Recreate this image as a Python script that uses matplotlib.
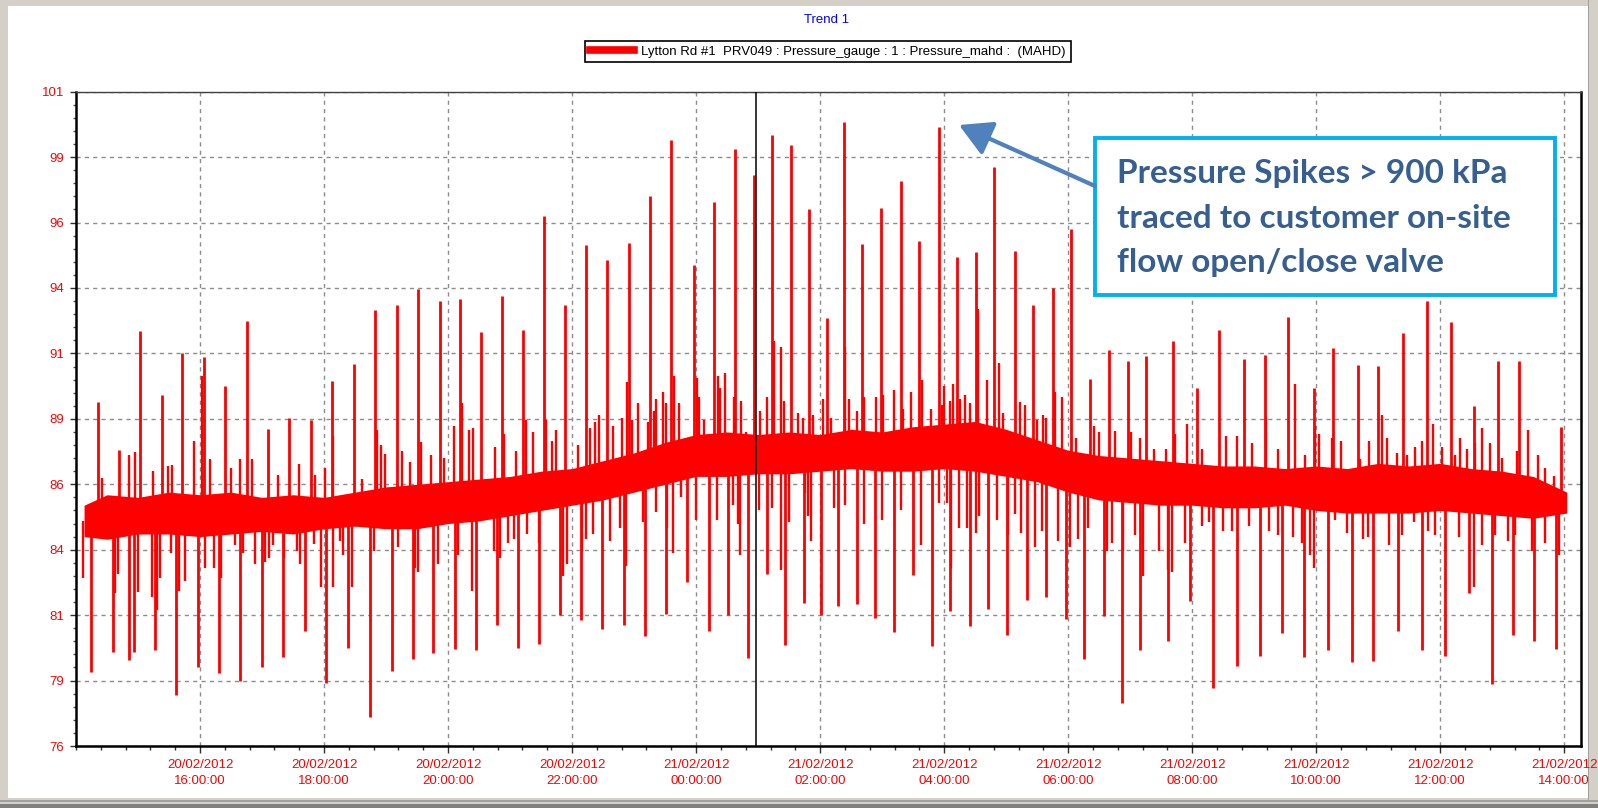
import numpy as np
import pandas as pd
import matplotlib
matplotlib.use("Agg")
import matplotlib.pyplot as plt
import matplotlib.dates as mdates
from matplotlib.lines import Line2D
from matplotlib.patches import Rectangle, FancyArrowPatch
from matplotlib.ticker import FixedLocator, FuncFormatter, MultipleLocator

# ---------------- data (hours after 20/02/2012 14:00, pressure in m AHD) ----------------
START = pd.Timestamp("2012-02-20 14:00")
X_END_HOURS = 24.27
CURSOR_HOURS = 10.96

band_hours = [0.13, 0.5, 1.0, 1.5, 2.0, 2.5, 3.0, 3.5, 4.0, 4.5, 5.0, 5.5, 6.0, 6.5, 7.0, 7.5,
              8.0, 8.5, 9.0, 9.5, 10.0, 10.5, 11.0, 11.5, 12.0, 12.5, 13.0, 13.5, 14.0, 14.5,
              15.0, 15.5, 16.0, 16.5, 17.0, 17.5, 18.0, 18.5, 19.0, 19.5, 20.0, 20.5, 21.0,
              21.5, 22.0, 22.5, 23.0, 23.5, 24.04]
band_high = [85.2, 85.6, 85.5, 85.7, 85.6, 85.7, 85.5, 85.6, 85.5, 85.7, 85.9, 86.0, 86.1, 86.2,
             86.3, 86.5, 86.6, 86.9, 87.2, 87.6, 87.9, 88.0, 87.9, 88.0, 87.9, 88.1, 88.0, 88.2,
             88.3, 88.4, 88.1, 87.7, 87.3, 87.1, 87.0, 86.9, 86.8, 86.7, 86.7, 86.6, 86.7, 86.6,
             86.8, 86.7, 86.8, 86.6, 86.5, 86.3, 85.7]
band_low = [84.0, 83.9, 84.1, 84.1, 84.0, 84.1, 84.2, 84.1, 84.3, 84.4, 84.3, 84.3, 84.5, 84.6,
            84.8, 85.0, 85.2, 85.4, 85.7, 86.0, 86.3, 86.3, 86.4, 86.4, 86.5, 86.6, 86.5, 86.5,
            86.6, 86.5, 86.3, 86.1, 85.7, 85.4, 85.3, 85.2, 85.2, 85.1, 85.1, 85.2, 85.0, 84.9,
            84.9, 84.9, 85.0, 84.9, 84.8, 84.7, 84.9]

spike_up_hours = [0.35, 0.69, 1.03, 1.38, 1.71, 2.06, 2.41, 2.76, 3.10, 3.43, 3.79, 4.13, 4.48, 4.82,
                  5.17, 5.52, 5.87, 6.20, 6.53, 6.87, 7.21, 7.55, 7.89, 8.23, 8.57, 8.91, 9.25, 9.60,
                  9.96, 10.29, 10.63, 10.93, 11.23, 11.53, 11.82, 12.11, 12.38, 12.68, 12.98, 13.30,
                  13.60, 13.91, 14.21, 14.51, 14.81, 15.14, 15.43, 15.75, 16.04, 16.36, 16.66, 16.96,
                  17.26, 17.69, 18.07, 18.43, 18.83, 19.18, 19.54, 19.96, 20.27, 20.67, 21.00, 21.40,
                  21.78, 22.17, 22.55, 22.93, 23.27, 23.95]
spike_up_values = [89.14, 87.32, 91.85, 89.43, 91.0, 90.85, 89.75, 92.24, 88.1, 88.55, 88.47, 89.95,
                   90.6, 92.67, 92.86, 93.48, 92.99, 93.08, 91.82, 93.18, 91.89, 96.25, 92.85, 95.13,
                   94.57, 95.23, 97.0, 99.17, 94.36, 96.79, 98.8, 97.81, 99.35, 98.95, 96.5, 92.37,
                   99.84, 95.18, 96.57, 97.57, 95.29, 99.65, 94.7, 94.86, 98.13, 94.9, 92.85, 93.5,
                   95.77, 90.02, 91.14, 90.7, 90.91, 91.46, 89.67, 91.9, 90.78, 90.94, 92.41, 89.67,
                   91.22, 90.54, 90.51, 91.77, 92.99, 92.19, 89.0, 90.7, 90.7, 88.18]

spike_down_hours = [0.24, 0.59, 0.86, 0.94, 1.28, 1.62, 1.97, 2.31, 2.65, 3.00, 3.34, 3.69, 4.03, 4.38,
                    4.74, 5.09, 5.43, 5.76, 6.11, 6.45, 6.79, 7.13, 7.47, 7.81, 8.14, 8.49, 8.83, 9.17,
                    9.51, 9.86, 10.20, 10.51, 10.84, 11.14, 11.44, 11.74, 12.02, 12.29, 12.59, 12.88,
                    13.19, 13.50, 13.81, 14.10, 14.42, 14.71, 15.02, 15.34, 15.64, 15.96, 16.26, 16.57,
                    16.86, 17.16, 17.61, 17.97, 18.34, 18.73, 19.10, 19.45, 19.81, 20.19, 20.58, 20.92,
                    21.32, 21.70, 22.08, 22.47, 22.84, 23.17, 23.52, 23.87]
spike_down_values = [78.84, 79.6, 79.3, 79.6, 79.68, 77.96, 79.0, 78.78, 78.5, 79.0, 79.4, 80.4, 78.4,
                     79.73, 77.1, 78.85, 79.33, 79.57, 79.71, 79.65, 80.61, 79.76, 79.89, 81.0, 80.83,
                     80.48, 80.61, 80.19, 81.04, 82.26, 80.4, 81.0, 79.36, 82.59, 79.87, 81.47, 81.0,
                     81.36, 81.41, 80.88, 80.35, 82.53, 79.81, 81.15, 80.59, 81.25, 80.24, 81.57, 81.68,
                     80.85, 79.33, 80.96, 77.65, 79.68, 80.03, 81.55, 78.21, 79.07, 79.44, 80.32, 79.4,
                     79.65, 79.2, 79.25, 80.4, 79.68, 79.44, 81.84, 78.37, 80.24, 80.03, 79.71]

minor_up_hours = [0.42, 0.85, 0.95, 1.24, 1.48, 1.55, 1.91, 2.03, 2.16, 2.50, 2.65, 2.84, 3.25, 3.60,
                  3.85, 4.02, 4.15, 4.61, 4.85, 4.92, 4.99, 5.25, 5.39, 5.56, 5.72, 5.93, 6.09, 6.23,
                  6.33, 6.41, 6.76, 6.91, 7.09, 7.26, 7.37, 7.58, 7.67, 7.74, 8.10, 8.29, 8.37, 8.43,
                  8.66, 8.80, 8.88, 8.96, 9.07, 9.22, 9.32, 9.36, 9.47, 9.52, 9.64, 9.72, 10.01, 10.05,
                  10.13, 10.35, 10.38, 10.47, 10.61, 10.73, 10.80, 11.03, 11.15, 11.26, 11.37, 11.42,
                  11.64, 11.72, 11.88, 12.04, 12.17, 12.40, 12.46, 12.60, 12.71, 12.90, 13.02, 13.19,
                  13.34, 13.47, 13.64, 13.78, 13.97, 14.00, 14.10, 14.14, 14.26, 14.34, 14.42, 14.54,
                  14.69, 14.89, 14.95, 15.22, 15.30, 15.50, 15.59, 15.65, 15.78, 15.90, 16.12, 16.42,
                  16.49, 16.76, 17.02, 17.16, 17.39, 17.57, 17.73, 17.92, 18.16, 18.55, 18.73, 18.97,
                  19.19, 19.38, 19.66, 19.82, 19.98, 20.04, 20.25, 20.40, 20.71, 20.85, 21.06, 21.14,
                  21.30, 21.46, 21.60, 21.71, 21.89, 22.03, 22.24, 22.32, 22.43, 22.56, 22.67, 22.81,
                  22.99, 23.24, 23.42, 23.58, 23.69, 23.83]
minor_up_values = [86.23, 87.1, 87.24, 86.5, 86.7, 86.74, 87.67, 90.15, 86.95, 86.63, 86.95, 86.95,
                   86.34, 86.79, 86.34, 86.63, 87.83, 86.2, 88.07, 87.5, 87.14, 87.27, 86.87, 87.6,
                   87.1, 87.0, 88.23, 89.1, 88.07, 88.15, 87.43, 87.91, 87.27, 88.47, 87.99, 88.47,
                   87.67, 88.07, 87.51, 88.15, 88.39, 88.63, 88.23, 88.55, 89.9, 88.47, 89.1, 88.39,
                   88.79, 89.27, 89.54, 89.1, 90.15, 89.1, 90.07, 89.35, 88.47, 90.15, 89.67, 90.27,
                   89.35, 89.19, 87.99, 88.79, 89.35, 91.46, 91.26, 89.19, 88.71, 88.55, 88.63, 89.27,
                   88.55, 91.23, 89.27, 88.79, 89.35, 89.35, 89.43, 89.59, 88.87, 89.51, 89.99, 88.87,
                   89.03, 89.75, 89.19, 89.83, 89.27, 89.43, 89.11, 92.7, 89.99, 90.62, 88.71, 89.15,
                   89.03, 88.47, 88.63, 88.55, 89.51, 89.35, 87.75, 88.23, 87.99, 88.02, 87.99, 87.75,
                   87.35, 87.35, 87.91, 88.31, 87.35, 87.83, 87.83, 87.59, 88.55, 87.35, 89.83, 87.11,
                   88.23, 87.91, 87.75, 87.67, 86.95, 87.67, 88.63, 87.75, 87.19, 87.11, 87.43, 87.67,
                   88.31, 87.43, 87.11, 87.75, 87.35, 87.59, 88.15, 87.59, 86.99, 87.27, 88.07, 87.11,
                   86.63, 86.31]

minor_down_hours = [0.12, 0.63, 0.68, 1.00, 1.23, 1.30, 1.35, 1.54, 1.66, 1.75, 2.08, 2.22, 2.34, 2.57,
                    2.69, 2.88, 3.05, 3.12, 3.18, 3.36, 3.56, 3.61, 3.84, 3.95, 4.15, 4.26, 4.31, 4.45,
                    4.80, 5.19, 5.47, 5.51, 5.83, 6.16, 6.39, 6.74, 6.84, 6.96, 7.06, 7.27, 7.46, 7.85,
                    7.91, 8.16, 8.22, 8.34, 8.61, 8.77, 8.87, 9.14, 9.36, 9.53, 9.63, 9.76, 10.00, 10.34,
                    10.59, 10.67, 10.71, 11.02, 11.23, 11.37, 11.50, 11.75, 11.81, 11.86, 12.23, 12.40,
                    12.71, 13.00, 13.30, 13.62, 13.91, 14.05, 14.11, 14.24, 14.37, 14.51, 14.56, 14.85,
                    15.03, 15.15, 15.24, 15.46, 15.57, 15.84, 16.03, 16.16, 16.32, 16.62, 16.70, 16.89,
                    17.08, 17.20, 17.46, 17.61, 17.68, 17.89, 18.16, 18.27, 18.49, 18.65, 18.92, 19.24,
                    19.39, 19.63, 19.77, 19.90, 19.96, 20.31, 20.49, 20.76, 20.84, 21.17, 21.38, 21.57,
                    21.81, 21.92, 22.30, 22.54, 22.67, 22.89, 23.10, 23.21, 23.48, 23.69, 23.92]
minor_down_values = [82.4, 81.84, 82.56, 81.9, 81.68, 81.2, 82.4, 83.36, 81.92, 82.32, 82.8, 82.8, 82.4,
                     83.68, 83.36, 82.96, 83.04, 83.2, 83.68, 83.2, 83.44, 82.96, 83.7, 82.08, 82.08,
                     83.84, 83.28, 82.08, 83.44, 83.6, 82.8, 82.64, 82.96, 83.28, 81.92, 83.44, 83.2,
                     83.76, 83.92, 84.1, 83.76, 82.48, 82.96, 83.44, 83.92, 84.1, 83.84, 84.32, 82.88,
                     84.55, 84.95, 84.32, 83.36, 85.5, 84.63, 84.63, 85.19, 84.47, 83.28, 85.03, 85.11,
                     82.72, 84.55, 85.67, 84.79, 83.84, 85.11, 85.19, 84.47, 84.63, 85.03, 83.68, 85.27,
                     85.27, 82.8, 84.32, 84.32, 84.15, 84.79, 84.63, 84.07, 84.87, 84.15, 83.6, 84.23,
                     83.84, 83.6, 83.92, 84.32, 83.44, 83.76, 83.44, 84.07, 82.48, 83.44, 82.72, 82.64,
                     83.76, 84.4, 84.55, 84.23, 84.23, 84.4, 84.23, 84.07, 83.99, 83.76, 83.28, 82.8,
                     84.63, 84.15, 83.92, 83.99, 83.68, 84.07, 84.55, 84.23, 84.07, 83.99, 82.08, 83.68,
                     84.07, 83.84, 84.07, 83.44, 83.76, 83.28]

y_ticks = [76, 78.5, 81, 83.5, 86, 88.5, 91, 93.5, 96, 98.5, 101]
x_tick_hours = [2, 4, 6, 8, 10, 12, 14, 16, 18, 20, 22, 24]
legend_label = "Lytton Rd #1  PRV049 : Pressure_gauge : 1 : Pressure_mahd :  (MAHD)"
chart_title = "Trend 1"
note_lines = ["Pressure Spikes > 900 kPa", "traced to customer on-site", "flow open/close valve"]

# ---------------- helpers ----------------
W, H = 1598, 808


def hours_to_num(h):
    times = START + pd.to_timedelta(np.asarray(h, dtype=float), unit="h")
    return mdates.date2num(pd.DatetimeIndex(times).to_pydatetime())


def fpx(x, y):
    return (x / W, 1 - y / H)


plt.rcParams["font.family"] = ["Liberation Sans", "DejaVu Sans"]
RED = "#FF0000"

fig = plt.figure(figsize=(W / 100, H / 100), dpi=100, facecolor="white")

# window frame
frame_col = "#D4D0C8"
for (x0, y0, w, h, c) in [(0, 0, 8, H, frame_col), (0, 0, W, 6, frame_col), (W - 9, 0, 9, H, frame_col),
                          (0, H - 10, W, 10, frame_col), (0, H - 8, W, 2, "#A0A0A0"),
                          (0, H - 4, W, 4, "#808080"), (W - 10, 0, 1, H - 8, "#A0A0A0")]:
    fig.add_artist(Rectangle((x0 / W, 1 - (y0 + h) / H), w / W, h / H, transform=fig.transFigure,
                             facecolor=c, edgecolor="none", zorder=0))

ax_l, ax_r, ax_t, ax_b = 76, 1581, 91.7, 746
ax = fig.add_axes([ax_l / W, 1 - ax_b / H, (ax_r - ax_l) / W, (ax_b - ax_t) / H])
ax.set_facecolor("white")

bh = np.array(band_hours)
hi = np.array(band_high)
lo = np.array(band_low)
mid = (hi + lo) / 2

ax.fill_between(hours_to_num(bh), lo, hi, color=RED, linewidth=0, zorder=3)


def spikes(hours, values, lw):
    hrs = np.asarray(hours)
    base = np.interp(hrs, bh, mid)
    ax.vlines(hours_to_num(hrs), base, values, color=RED, linewidth=lw, zorder=3)


spikes(minor_up_hours, minor_up_values, 1.7)
spikes(minor_down_hours, minor_down_values, 1.7)
spikes(spike_up_hours, spike_up_values, 2.0)
spikes(spike_down_hours, spike_down_values, 2.0)

# cursor line
ax.axvline(hours_to_num([CURSOR_HOURS])[0], color="black", linewidth=1.1, zorder=4)

ax.set_ylim(76, 101)
ax.set_xlim(hours_to_num([0.0])[0], hours_to_num([X_END_HOURS])[0])
ax.xaxis_date()
ax.xaxis.set_major_locator(FixedLocator(hours_to_num(x_tick_hours)))
ax.xaxis.set_major_formatter(mdates.DateFormatter("%d/%m/%Y\n%H:%M:%S"))
ax.xaxis.set_minor_locator(MultipleLocator(1 / 60))
ax.yaxis.set_major_locator(FixedLocator(y_ticks))
ax.yaxis.set_major_formatter(FuncFormatter(lambda v, p: "%d" % int(np.floor(v + 0.5))))
ax.yaxis.set_minor_locator(MultipleLocator(0.5))

ax.grid(True, which="major", color="#8C8C8C", linestyle=(0, (3, 3)), linewidth=1.0, zorder=1)
ax.set_axisbelow(True)

ax.tick_params(axis="both", which="major", labelsize=9.5, labelcolor=RED, color="#303030", direction="out")
ax.tick_params(axis="x", which="major", length=5, width=1, pad=4)
ax.tick_params(axis="x", which="minor", length=3, width=1, color="#303030")
ax.tick_params(axis="y", which="major", length=4.5, width=1, pad=4)
ax.tick_params(axis="y", which="minor", length=2.5, width=1, color="#505050")
for lab in ax.get_xticklabels():
    lab.set_linespacing(1.45)

for side in ["left", "bottom", "right"]:
    ax.spines[side].set_linewidth(1.8)
    ax.spines[side].set_color("black")
ax.spines["top"].set_linewidth(1.0)
ax.spines["top"].set_color("#404040")

# title and legend
fig.text(827 / W, 1 - 20 / H, chart_title, color="#0000FF", fontsize=9.5, ha="center", va="center")
fig.legend(handles=[Line2D([], [], color=RED, linewidth=5.5)], labels=[legend_label], loc="center",
           bbox_to_anchor=fpx(828, 51.5), fontsize=9.5, frameon=True, fancybox=False,
           edgecolor="black", framealpha=1, borderpad=0.35, handlelength=3.3, handletextpad=0.6,
           borderaxespad=0)
fig.legends[0].get_frame().set_linewidth(1.2)

# annotation box
bx0, by0, bx1, by1 = 1095, 138, 1555, 295
fig.add_artist(Rectangle(fpx(bx0, by1), (bx1 - bx0) / W, (by1 - by0) / H, transform=fig.transFigure,
                         facecolor="white", edgecolor="#00B0F0", linewidth=2.8, zorder=5))
note_color = "#365F91"
renderer = fig.canvas.get_renderer()
probe = fig.text(0, 0, note_lines[0], fontsize=20, fontweight="bold", family=["Lato", "DejaVu Sans"])
wpx = probe.get_window_extent(renderer=renderer).width
probe.remove()
note_size = 20 * 392 / wpx
for line, base in zip(note_lines, [183, 227.5, 272]):
    fig.text(1117 / W, 1 - base / H, line, fontsize=note_size, fontweight="bold", color=note_color,
             ha="left", va="baseline", family=["Lato", "DejaVu Sans"], zorder=6)

arrow = FancyArrowPatch(fpx(1095, 186), fpx(959, 125), transform=fig.transFigure,
                        arrowstyle="-|>,head_length=0.9,head_width=0.5", mutation_scale=22,
                        color="#4F81BD", linewidth=3.0, zorder=6, shrinkA=0, shrinkB=0)
fig.add_artist(arrow)

fig.savefig("out.png", dpi=100, facecolor="white")
